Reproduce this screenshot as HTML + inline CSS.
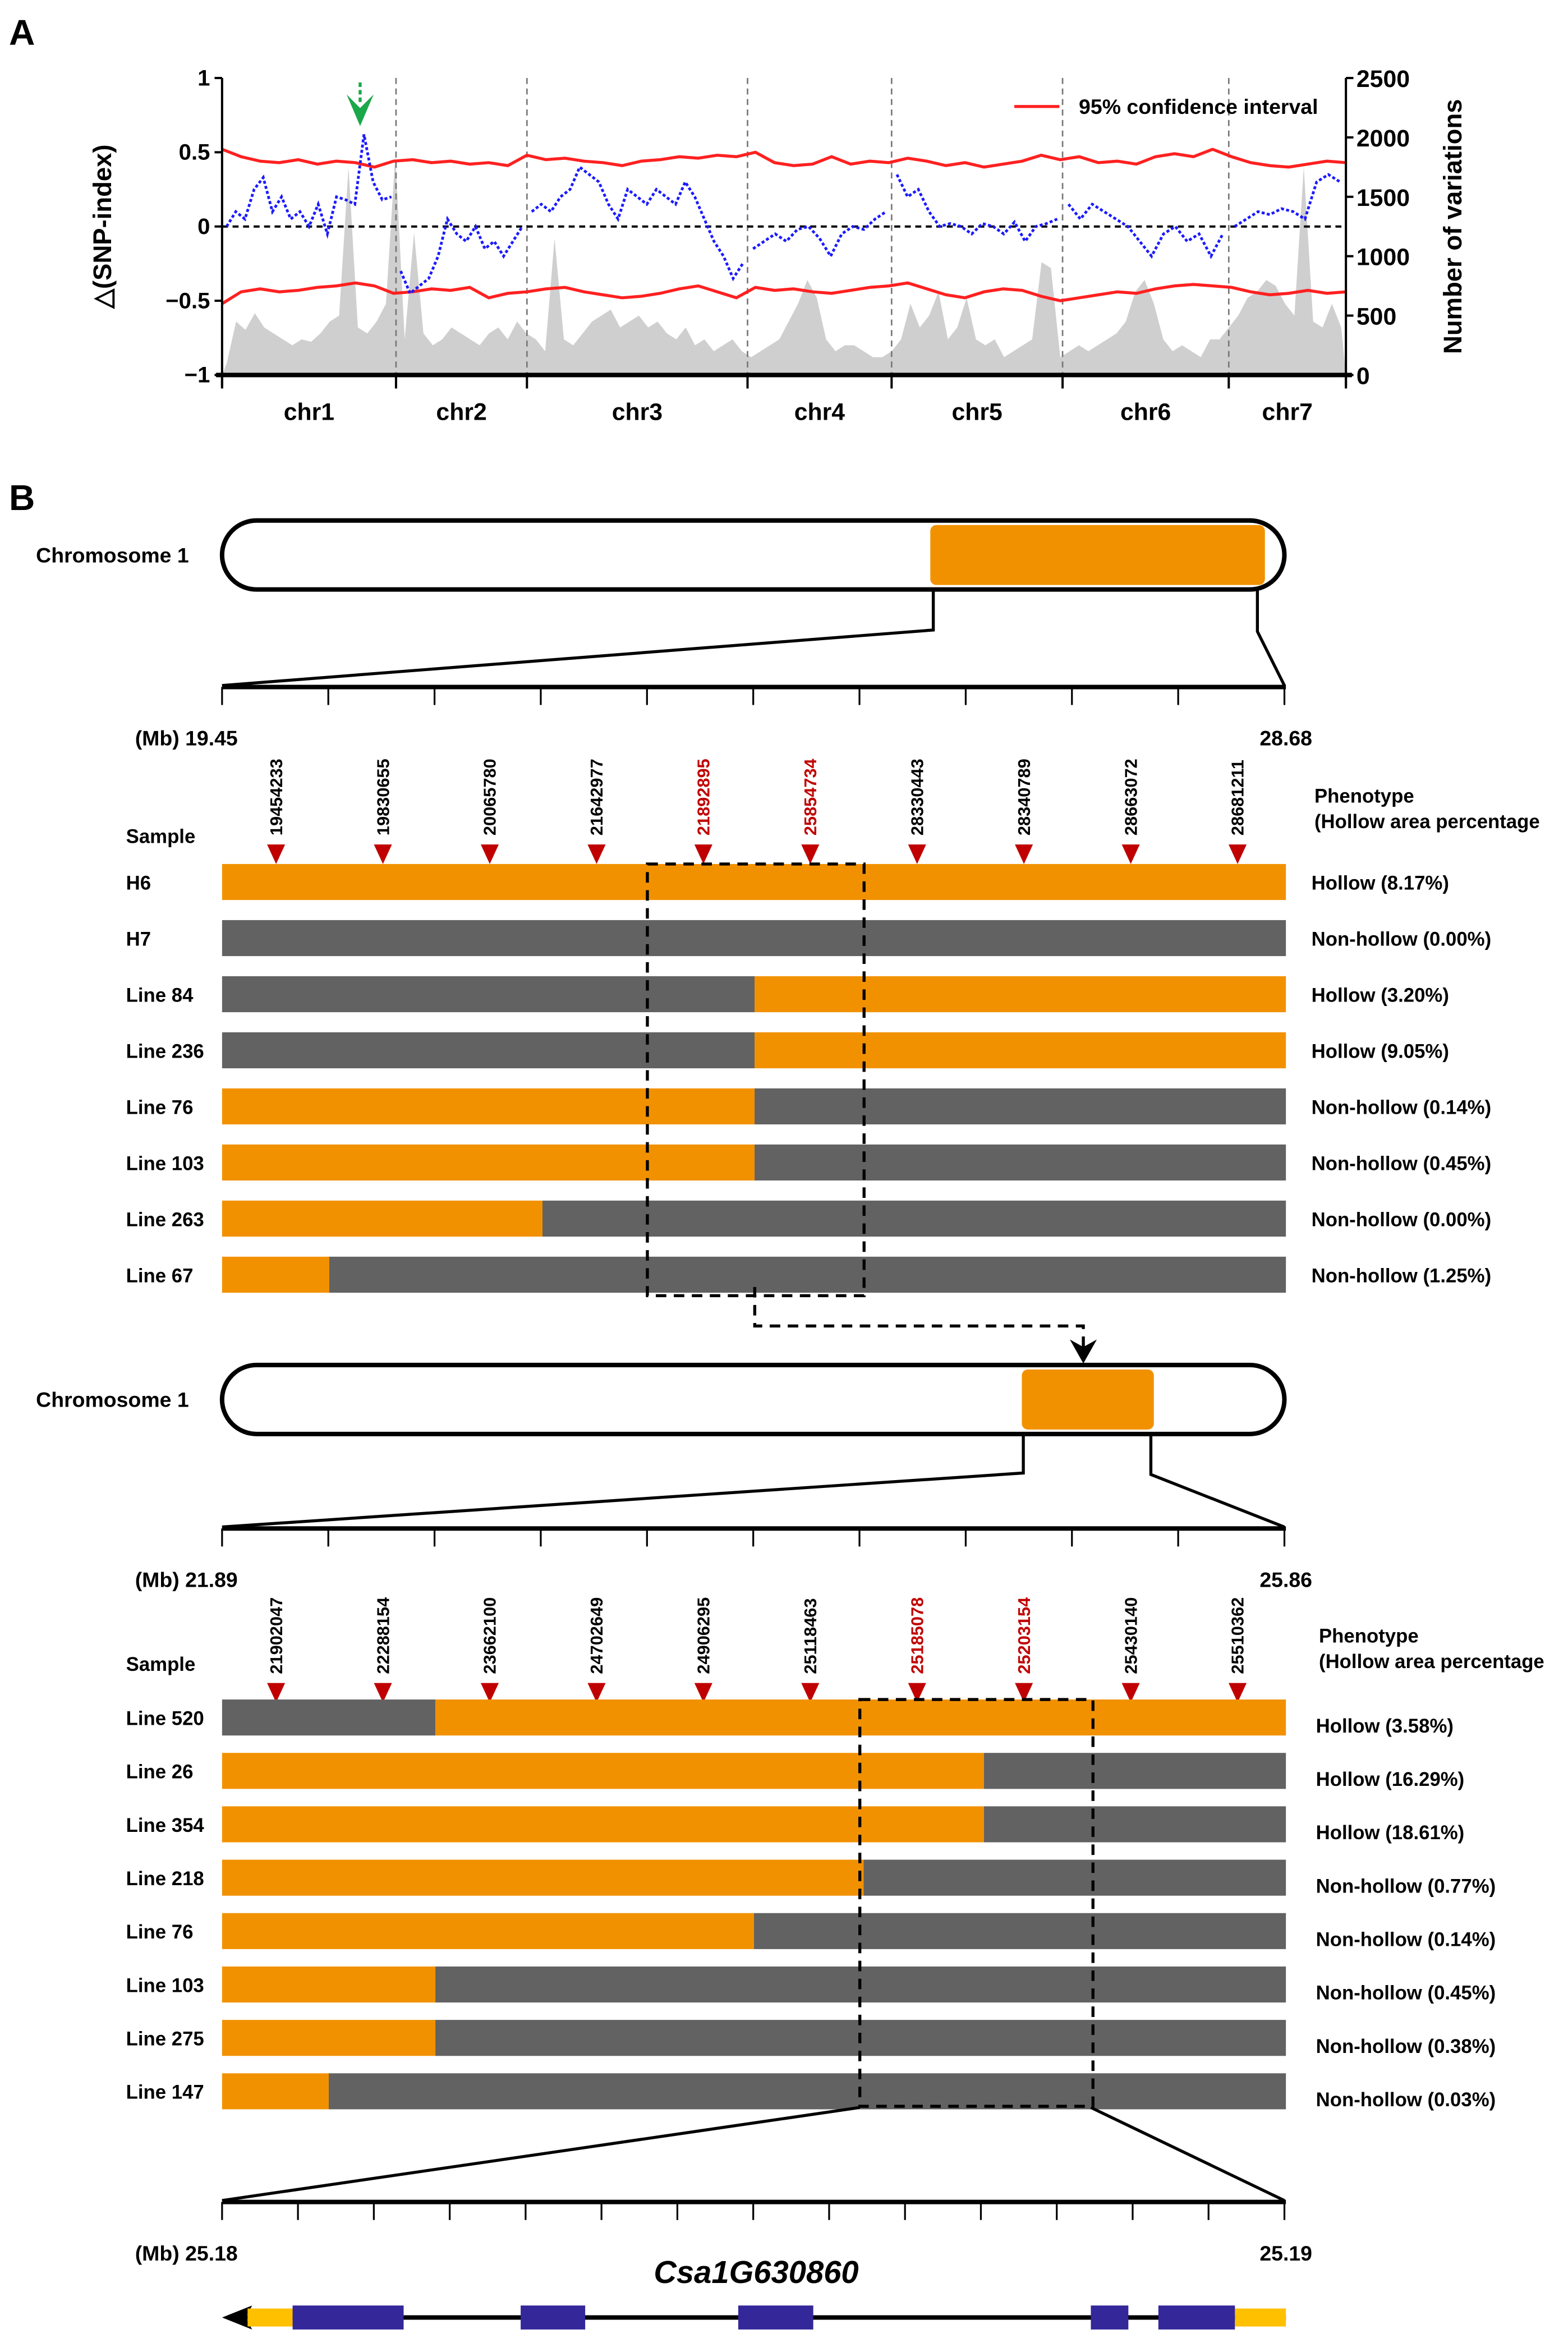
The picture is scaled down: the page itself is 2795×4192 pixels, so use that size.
<!DOCTYPE html>
<html><head><meta charset="utf-8"><style>
html,body{margin:0;padding:0;background:#fff;}
svg{display:block;font-family:"Liberation Sans",Arial,sans-serif;font-weight:bold;}
</style></head><body>
<svg id="fig" width="2795" height="4192" viewBox="0 0 1045 1568" preserveAspectRatio="none" xmlns="http://www.w3.org/2000/svg">
<text x="6" y="30" font-size="24">A</text>
<text x="6" y="340" font-size="24">B</text>
<g id="pa"></g>
<g id="pb"></g>
</svg>
<script>
// ---------- Panel A data ----------
const chrNames = ['chr1','chr2','chr3','chr4','chr5','chr6','chr7'];
const chrLen = [29.1, 21.9, 36.9, 24.1, 28.6, 27.8, 19.6];
const leftTicks = [1, 0.5, 0, -0.5, -1];
const rightTicks = [0, 500, 1000, 1500, 2000, 2500];
const delta1 = [0.0,0.1,0.05,0.25,0.33,0.1,0.2,0.05,0.1,0.0,0.15,-0.05,0.2,0.18,0.15,0.62,0.3,0.18,0.2];
const delta2 = [-0.3,-0.45,-0.4,-0.35,-0.2,0.05,-0.05,-0.1,0.0,-0.15,-0.1,-0.2,-0.1,0.0];
const delta3 = [0.1,0.15,0.1,0.2,0.25,0.4,0.35,0.3,0.15,0.05,0.25,0.2,0.15,0.25,0.2,0.15,0.3,0.2,0.05,-0.1,-0.2,-0.35,-0.25];
const delta4 = [-0.15,-0.1,-0.05,-0.1,-0.02,0.0,-0.08,-0.2,-0.05,0.0,-0.02,0.05,0.1];
const delta5 = [0.35,0.2,0.25,0.1,0.0,0.02,0.0,-0.05,0.02,0.0,-0.05,0.03,-0.1,0.0,0.02,0.05];
const delta6 = [0.15,0.05,0.15,0.1,0.05,0.0,-0.1,-0.2,-0.05,0.0,-0.1,-0.05,-0.2,-0.05];
const delta7 = [0.0,0.05,0.1,0.08,0.12,0.1,0.05,0.3,0.35,0.3];
const ciUpper = [0.52,0.47,0.44,0.43,0.45,0.42,0.44,0.43,0.40,0.44,0.45,0.43,0.44,0.42,0.43,0.41,0.48,0.45,0.46,0.44,0.43,0.41,0.44,0.45,0.47,0.46,0.48,0.47,0.50,0.43,0.41,0.42,0.47,0.42,0.44,0.43,0.46,0.44,0.41,0.43,0.40,0.42,0.44,0.48,0.45,0.47,0.43,0.44,0.42,0.47,0.49,0.47,0.52,0.47,0.43,0.41,0.40,0.42,0.44,0.43];
const ciLower = [-0.52,-0.44,-0.42,-0.44,-0.43,-0.41,-0.40,-0.38,-0.40,-0.45,-0.44,-0.42,-0.43,-0.41,-0.48,-0.45,-0.44,-0.42,-0.41,-0.44,-0.46,-0.48,-0.47,-0.45,-0.42,-0.40,-0.44,-0.48,-0.41,-0.43,-0.42,-0.44,-0.45,-0.43,-0.41,-0.40,-0.38,-0.42,-0.46,-0.48,-0.44,-0.42,-0.43,-0.47,-0.50,-0.48,-0.46,-0.44,-0.45,-0.42,-0.40,-0.39,-0.40,-0.41,-0.44,-0.46,-0.45,-0.43,-0.45,-0.44];
const varCounts = [100,450,380,520,400,350,300,250,300,280,350,450,500,1750,400,350,450,600,1850,
300,1200,350,250,300,400,350,300,250,350,400,300,450,350,
300,200,1150,300,250,350,450,500,550,400,450,500,400,450,350,300,400,250,300,200,250,300,200,
150,200,250,300,450,600,800,650,300,200,250,250,200,150,150,
200,300,600,400,500,700,300,400,650,300,250,300,150,200,250,300,950,900,
150,200,250,200,250,300,350,450,700,800,600,300,200,250,200,150,300,
300,400,500,650,700,800,750,600,500,1750,450,400,600,400];

// ---------- Panel B data ----------
const markers1 = ['19454233','19830655','20065780','21642977','21892895','25854734','28330443','28340789','28663072','28681211'];
const red1 = [0,0,0,0,1,1,0,0,0,0];
const samples1 = ['H6','H7','Line 84','Line 236','Line 76','Line 103','Line 263','Line 67'];
const first1 = ['O','G','G','G','O','O','O','O'];
const bp1 = [null,null,24.07,24.07,24.07,24.07,22.23,20.38];
const pheno1 = ['Hollow (8.17%)','Non-hollow (0.00%)','Hollow (3.20%)','Hollow (9.05%)','Non-hollow (0.14%)','Non-hollow (0.45%)','Non-hollow (0.00%)','Non-hollow (1.25%)'];
const markers2 = ['21902047','22288154','23662100','24702649','24906295','25118463','25185078','25203154','25430140','25510362'];
const red2 = [0,0,0,0,0,0,1,1,0,0];
const samples2 = ['Line 520','Line 26','Line 354','Line 218','Line 76','Line 103','Line 275','Line 147'];
const first2 = ['G','O','O','O','O','O','O','O'];
const bp2 = [22.686,24.733,24.733,24.284,23.875,22.686,22.686,22.288];
const pheno2 = ['Hollow (3.58%)','Hollow (16.29%)','Hollow (18.61%)','Non-hollow (0.77%)','Non-hollow (0.14%)','Non-hollow (0.45%)','Non-hollow (0.38%)','Non-hollow (0.03%)'];

const NS='http://www.w3.org/2000/svg';
function mk(parent, tag, attrs, txt){const e=document.createElementNS(NS,tag);for(const k in attrs)e.setAttribute(k,attrs[k]);if(txt!==undefined)e.textContent=txt;parent.appendChild(e);return e;}

// ---------- Panel A ----------
const pa=document.getElementById('pa');
const X0=148,X1=897,YT=52,YB=250;
const total=chrLen.reduce((a,b)=>a+b,0);
const xs=mb=>X0+(mb/total)*(X1-X0);
const yL=v=>YB-(v+1)/2*(YB-YT);
const yR=c=>YB-c/2500*(YB-YT);
const starts=[];let acc=0;chrLen.forEach(l=>{starts.push(acc);acc+=l;});

// gray area
let d='M'+X0+','+YB;
varCounts.forEach((c,i)=>{d+=' L'+xs((i+0.5)/varCounts.length*total).toFixed(2)+','+yR(c).toFixed(2);});
d+=' L'+X1+','+YB+' Z';
let el=mk(pa,'path',{d:d,fill:'#cfcfcf'});



// chr boundaries
starts.slice(1).forEach((s,i)=>{
  let e=mk(pa,'line',{x1:xs(s),x2:xs(s),y1:YT,y2:YB,stroke:'#777','stroke-width':1,'stroke-dasharray':'4 3'});
  
  
});
// zero line
el=mk(pa,'line',{x1:X0,x2:X1,y1:yL(0),y2:yL(0),stroke:'#000','stroke-width':1.5,'stroke-dasharray':'4 3'});



// CI lines
function ciPath(arr){return arr.map((v,i)=>(i?'L':'M')+xs(i/(arr.length-1)*total).toFixed(2)+','+yL(v).toFixed(2)).join(' ');}
el=mk(pa,'path',{d:ciPath(ciUpper),fill:'none',stroke:'#ff2020','stroke-width':2});


el=mk(pa,'path',{d:ciPath(ciLower),fill:'none',stroke:'#ff2020','stroke-width':2});



// delta SNP index
[delta1,delta2,delta3,delta4,delta5,delta6,delta7].forEach((arr,ci)=>{
  const p=arr.map((v,i)=>(i?'L':'M')+xs(starts[ci]+(i+0.5)/arr.length*chrLen[ci]).toFixed(2)+','+yL(v).toFixed(2)).join(' ');
  let e=mk(pa,'path',{d:p,fill:'none',stroke:'#1a1aff','stroke-width':1.8,'stroke-dasharray':'2 1.5'});
  
  
});

// axes
el=mk(pa,'line',{x1:X0,x2:X0,y1:YT,y2:YB+8,stroke:'#000','stroke-width':1.5});


el=mk(pa,'line',{x1:X1,x2:X1,y1:YT,y2:YB+8,stroke:'#000','stroke-width':1.5});


el=mk(pa,'line',{x1:X0-4,x2:X1+4,y1:YB,y2:YB,stroke:'#000','stroke-width':3});


leftTicks.forEach(v=>{
  let t=mk(pa,'line',{x1:X0-5,x2:X0,y1:yL(v),y2:yL(v),stroke:'#000','stroke-width':1.5});
  
  
  let l=mk(pa,'text',{x:X0-8,y:yL(v)+5,'font-size':15,'text-anchor':'end'},v<0?'\u2212'+Math.abs(v):String(v));
  
  
});
rightTicks.forEach(v=>{
  let t=mk(pa,'line',{x1:X1,x2:X1+5,y1:yR(v),y2:yR(v),stroke:'#000','stroke-width':1.5});
  
  
  let l=mk(pa,'text',{x:X1+7,y:yR(v)+6,'font-size':16},String(v));
  
  
});
starts.concat([total]).forEach(s=>{
  let t=mk(pa,'line',{x1:xs(s),x2:xs(s),y1:YB,y2:YB+9,stroke:'#000','stroke-width':1.5});
  
  
});
chrNames.forEach((n,i)=>{
  let t=mk(pa,'text',{x:xs(starts[i]+chrLen[i]/2),y:280,'font-size':16,'text-anchor':'middle'},n);
  
  
});
el=mk(pa,'text',{x:0,y:0,'font-size':17,'text-anchor':'middle',transform:'translate(74,151) rotate(-90)'},'\u25B3(SNP-index)');


el=mk(pa,'text',{x:0,y:0,'font-size':17,'text-anchor':'middle',transform:'translate(974,151) rotate(-90)'},'Number of variations');


el=mk(pa,'line',{x1:676,x2:706,y1:71,y2:71,stroke:'#ff2020','stroke-width':2});


el=mk(pa,'text',{x:719,y:76,'font-size':14},'95% confidence interval');


el=mk(pa,'line',{x1:240,x2:240,y1:55,y2:70,stroke:'#1aa84a','stroke-width':2,'stroke-dasharray':'3 2'});


el=mk(pa,'path',{d:'M231,63 L240,84 L249,63 L240,72 Z',fill:'#1aa84a'});



// ---------- Panel B ----------
const pb=document.getElementById('pb');
const ORANGE='#f29100',GRAY='#626262';
function chromo(y,ox1,ox2,name){
  let t=mk(pb,'text',{x:24,y:y+5,'font-size':14},'Chromosome 1');
  
  
  let r=mk(pb,'rect',{x:148,y:y-23,width:708,height:46,rx:23,fill:'#fff',stroke:'#000','stroke-width':3});
  
  
  let o=mk(pb,'rect',{x:ox1,y:y-20,width:ox2-ox1,height:40,rx:4,fill:ORANGE});
  
  
}
function zoomLines(p1,p2,name){
  let e=mk(pb,'polyline',{points:p1,fill:'none',stroke:'#000','stroke-width':2});
  
  
  e=mk(pb,'polyline',{points:p2,fill:'none',stroke:'#000','stroke-width':2});
  
  
}
function scaleBar(y,n,lo,hi,name){
  let e=mk(pb,'line',{x1:148,x2:857,y1:y,y2:y,stroke:'#000','stroke-width':3});
  
  
  for(let i=0;i<=n;i++){
    let t=mk(pb,'line',{x1:148+708*i/n,x2:148+708*i/n,y1:y,y2:y+12,stroke:'#000','stroke-width':1.2});
    
    
  }
  e=mk(pb,'text',{x:90,y:y+39,'font-size':14},'(Mb)  '+lo);
  
  
  e=mk(pb,'text',{x:857,y:y+39,'font-size':14,'text-anchor':'middle'},hi);
  
  
}
function region(o){
  const sx=mb=>148+(mb-o.lo)/(o.hi-o.lo)*709;
  o.markers.forEach((m,i)=>{
    const x=184+71.2*i;
    let t=mk(pb,'text',{x:0,y:0,'font-size':11.5,fill:o.red[i]?'#c00000':'#000',transform:'translate('+(x+4)+','+(o.triY-6)+') rotate(-90)'},m);
    
    
    let p=mk(pb,'path',{d:'M'+(x-6)+','+o.triY+' L'+(x+6)+','+o.triY+' L'+x+','+(o.triY+13)+' Z',fill:'#c00000'});
    
    
  });
  let e=mk(pb,'text',{x:84,y:o.sampleY,'font-size':13},'Sample');
  
  
  e=mk(pb,'text',{x:o.phX,y:o.phY,'font-size':13},'Phenotype');
  
  
  e=mk(pb,'text',{x:o.phX,y:o.phY+17,'font-size':13},'(Hollow area percentage');
  
  
  o.samples.forEach((s,i)=>{
    const cy=o.row0+o.dy*i;
    const c1=o.first[i]==='O'?ORANGE:GRAY, c2=o.first[i]==='O'?GRAY:ORANGE;
    const b=o.bp[i]===null?857:sx(o.bp[i]);
    let r=mk(pb,'rect',{x:148,y:cy-12,width:b-148,height:24,fill:c1});
    
    
    if(b<857){
      r=mk(pb,'rect',{x:b,y:cy-12,width:857-b,height:24,fill:c2});
      
      
    }
    let t=mk(pb,'text',{x:84,y:cy+5,'font-size':13},s);
    
    
    t=mk(pb,'text',{x:o.phX-2,y:cy+5+(o.phOff||0),'font-size':13},o.pheno[i]);
    
    
  });
  const bx1=sx(o.box[0]),bx2=sx(o.box[1]);
  e=mk(pb,'rect',{x:bx1,y:o.row0-12,width:bx2-bx1,height:o.dy*7+24+(o.boxExtra||0),fill:'none',stroke:'#000','stroke-width':2,'stroke-dasharray':'7 5'});
  
  
}

chromo(370,620,843,'chromosome-1-top');
zoomLines('622,393 622,420 148,457','838,393 838,421 856,457','zoom-lines-1');
scaleBar(458,10,'19.45','28.68','scale-bar-1');
region({lo:19.45,hi:28.68,markers:markers1,red:red1,samples:samples1,first:first1,bp:bp1,pheno:pheno1,triY:563,sampleY:562,phX:876,phY:535,row0:588,dy:37.4,box:[23.14,25.02],boxExtra:2});
el=mk(pb,'polyline',{points:'503,858 503,884 722,884 722,898',fill:'none',stroke:'#000','stroke-width':2,'stroke-dasharray':'7 5'});


el=mk(pb,'path',{d:'M713,893 L722,909 L731,893 L722,898 Z',fill:'#000'});


chromo(933,681,769,'chromosome-1-bottom');
zoomLines('682,956 682,982 148,1018','767,956 767,983 856,1018','zoom-lines-2');
scaleBar(1019,10,'21.89','25.86','scale-bar-2');
region({lo:21.89,hi:25.86,markers:markers2,red:red2,samples:samples2,first:first2,bp:bp2,pheno:pheno2,triY:1122,sampleY:1114,phX:879,phY:1095,row0:1145,dy:35.6,phOff:5,box:[24.27,25.14],boxExtra:-2});
zoomLines('573,1405 148,1467','727,1405 856,1467','zoom-lines-3');
scaleBar(1468,14,'25.18','25.19','scale-bar-3');
el=mk(pb,'text',{x:504,y:1522,'font-size':21,'font-style':'italic','text-anchor':'middle'},'Csa1G630860');


el=mk(pb,'line',{x1:160,x2:857,y1:1545,y2:1545,stroke:'#000','stroke-width':3});


el=mk(pb,'path',{d:'M148,1545 L168,1537 L164,1545 L168,1553 Z',fill:'#000'});


[[165,195],[823,857]].forEach(u=>{
  let r=mk(pb,'rect',{x:u[0],y:1539,width:u[1]-u[0],height:12,fill:'#ffc000'});
  
  
});
[[195,269],[347,390],[492,542],[727,752],[772,823]].forEach(u=>{
  let r=mk(pb,'rect',{x:u[0],y:1537,width:u[1]-u[0],height:16,fill:'#33279a'});
  
  
});
</script>
</body></html>
